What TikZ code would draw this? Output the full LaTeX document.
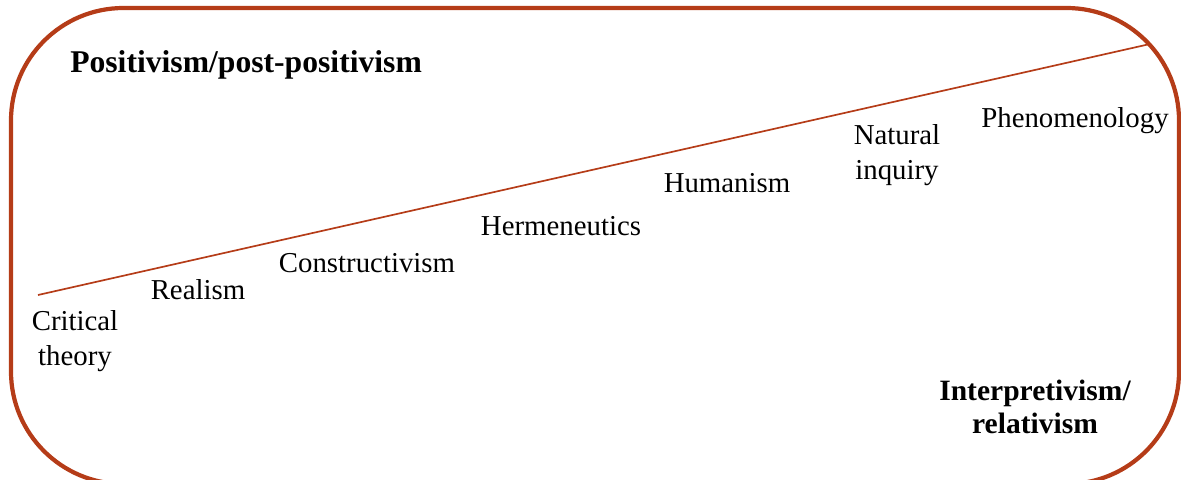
\documentclass[tikz,border=0pt]{standalone}
\usepackage{fontspec}
\setmainfont{Liberation Serif}
\usepackage{tikz}
\usetikzlibrary{positioning}
\definecolor{drust}{HTML}{B53C18}
\tikzset{
  dframe/.style={draw=drust, line width=3pt, rounded corners=80},
  dline/.style={drust, line width=1.2pt},
  dlbl/.style={inner sep=0pt, align=center, font=\fontsize{20.5}{24.5}\selectfont},
  dhead/.style={inner sep=0pt, align=center, font=\fontsize{22.5}{24}\selectfont\bfseries},
}

\begin{document}
\begin{tikzpicture}[x=0.025cm, y=-0.025cm]

  \useasboundingbox (0,0) rectangle (1181,479);

  % moldura
  \draw[dframe] (11,8) rectangle (1179,484);

  % eixo
  \coordinate (lo) at (38,295);
  \coordinate (hi) at (1150,44);
  \draw[dline] (lo) -- (hi);

  % polos
  \node[dhead, anchor=west] (pos) at (70,65) {Positivism/post-positivism};
  \node[dhead, font=\fontsize{21}{23.5}\selectfont\bfseries] (int) at (1035,407) {Interpretivism/\\relativism};

  % paradigmas
  \node[dlbl] (crit) at (75,341) {Critical\\theory};
  \node[dlbl] (real) at (198,290) {Realism};
  \node[dlbl] (cons) at (367,263) {Constructivism};
  \node[dlbl] (herm) at (561,226) {Hermeneutics};
  \node[dlbl] (hum)  at (727,183) {Humanism};
  \node[dlbl] (nat)  at (897,155) {Natural\\inquiry};
  \node[dlbl] (phen) at (1075,121) {Phenomenology};

\end{tikzpicture}
\end{document}
